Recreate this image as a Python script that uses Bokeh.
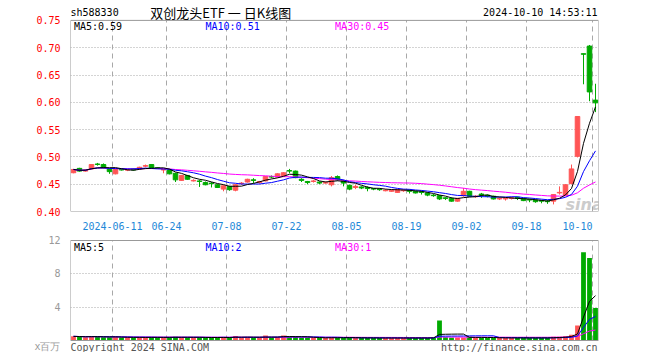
import pandas as pd
from bokeh.plotting import figure
from bokeh.models import (Range1d, FixedTicker, Label, ColumnDataSource, NumeralTickFormatter,
                          BoxAnnotation)
from bokeh.layouts import column
from bokeh.embed import file_html
from bokeh.resources import INLINE

# ---------------- data ----------------
dates = [
    "2024-05-30", "2024-05-31", "2024-06-03", "2024-06-04", "2024-06-05", "2024-06-06", "2024-06-07",
    "2024-06-11", "2024-06-12", "2024-06-13", "2024-06-14", "2024-06-17", "2024-06-18", "2024-06-19",
    "2024-06-20", "2024-06-21",
    "2024-06-24", "2024-06-25", "2024-06-26", "2024-06-27", "2024-06-28", "2024-07-01", "2024-07-02",
    "2024-07-03", "2024-07-04", "2024-07-05",
    "2024-07-08", "2024-07-09", "2024-07-10", "2024-07-11", "2024-07-12", "2024-07-15", "2024-07-16",
    "2024-07-17", "2024-07-18", "2024-07-19",
    "2024-07-22", "2024-07-23", "2024-07-24", "2024-07-25", "2024-07-26", "2024-07-29", "2024-07-30",
    "2024-07-31", "2024-08-01", "2024-08-02",
    "2024-08-05", "2024-08-06", "2024-08-07", "2024-08-08", "2024-08-09", "2024-08-12", "2024-08-13",
    "2024-08-14", "2024-08-15", "2024-08-16",
    "2024-08-19", "2024-08-20", "2024-08-21", "2024-08-22", "2024-08-23", "2024-08-26", "2024-08-27",
    "2024-08-28", "2024-08-29", "2024-08-30",
    "2024-09-02", "2024-09-03", "2024-09-04", "2024-09-05", "2024-09-06", "2024-09-09", "2024-09-10",
    "2024-09-11", "2024-09-12", "2024-09-13",
    "2024-09-18", "2024-09-19", "2024-09-20", "2024-09-23", "2024-09-24", "2024-09-25", "2024-09-26",
    "2024-09-27", "2024-09-30", "2024-10-08", "2024-10-09", "2024-10-10",
]

open_ = [0.471, 0.479, 0.474, 0.478, 0.487, 0.486, 0.478, 0.469, 0.477, 0.476,
         0.478, 0.478, 0.483, 0.486, 0.480, 0.476, 0.476, 0.470, 0.457, 0.466,
         0.456, 0.456, 0.453, 0.452, 0.449, 0.441, 0.446, 0.439, 0.451, 0.454,
         0.458, 0.453, 0.456, 0.464, 0.463, 0.466, 0.475, 0.474, 0.459, 0.455,
         0.455, 0.454, 0.452, 0.449, 0.464, 0.456, 0.448, 0.444, 0.445, 0.444,
         0.442, 0.441, 0.438, 0.437, 0.435, 0.438, 0.439, 0.437, 0.436, 0.434,
         0.430, 0.429, 0.425, 0.424, 0.419, 0.429, 0.437, 0.427, 0.432, 0.430,
         0.428, 0.423, 0.423, 0.424, 0.426, 0.424, 0.422, 0.421, 0.420, 0.419,
         0.419, 0.434, 0.430, 0.451, 0.501, 0.689, 0.703, 0.604]
high = [0.478, 0.480, 0.477, 0.486, 0.489, 0.488, 0.479, 0.477, 0.478, 0.477,
        0.479, 0.482, 0.486, 0.486, 0.481, 0.478, 0.477, 0.471, 0.467, 0.467,
        0.459, 0.458, 0.455, 0.454, 0.450, 0.448, 0.447, 0.450, 0.454, 0.460,
        0.461, 0.456, 0.465, 0.466, 0.470, 0.472, 0.478, 0.475, 0.461, 0.456,
        0.458, 0.455, 0.455, 0.465, 0.466, 0.458, 0.449, 0.449, 0.446, 0.446,
        0.443, 0.442, 0.441, 0.440, 0.441, 0.440, 0.440, 0.437, 0.437, 0.435,
        0.432, 0.430, 0.426, 0.426, 0.425, 0.443, 0.438, 0.430, 0.434, 0.431,
        0.429, 0.426, 0.425, 0.427, 0.427, 0.425, 0.423, 0.422, 0.421, 0.421,
        0.431, 0.446, 0.450, 0.486, 0.574, 0.689, 0.705, 0.634]
low = [0.470, 0.473, 0.473, 0.477, 0.484, 0.479, 0.469, 0.468, 0.475, 0.474,
       0.475, 0.477, 0.481, 0.478, 0.478, 0.470, 0.468, 0.454, 0.456, 0.458,
       0.455, 0.445, 0.448, 0.444, 0.443, 0.437, 0.438, 0.437, 0.449, 0.453,
       0.452, 0.451, 0.455, 0.461, 0.462, 0.465, 0.470, 0.461, 0.454, 0.450,
       0.453, 0.450, 0.451, 0.446, 0.456, 0.446, 0.439, 0.441, 0.441, 0.437,
       0.439, 0.438, 0.437, 0.436, 0.434, 0.436, 0.433, 0.433, 0.431, 0.428,
       0.427, 0.421, 0.421, 0.418, 0.418, 0.427, 0.427, 0.425, 0.425, 0.426,
       0.422, 0.421, 0.420, 0.422, 0.421, 0.419, 0.417, 0.416, 0.415, 0.414,
       0.413, 0.431, 0.429, 0.450, 0.499, 0.633, 0.602, 0.582]
close = [0.477, 0.474, 0.476, 0.486, 0.486, 0.480, 0.473, 0.477, 0.476, 0.476,
         0.476, 0.481, 0.484, 0.479, 0.479, 0.477, 0.469, 0.458, 0.466, 0.459,
         0.457, 0.455, 0.449, 0.451, 0.444, 0.447, 0.440, 0.449, 0.452, 0.459,
         0.457, 0.455, 0.464, 0.463, 0.469, 0.471, 0.474, 0.462, 0.457, 0.453,
         0.456, 0.452, 0.453, 0.462, 0.458, 0.452, 0.441, 0.446, 0.443, 0.442,
         0.441, 0.440, 0.439, 0.439, 0.440, 0.439, 0.437, 0.434, 0.435, 0.430,
         0.429, 0.423, 0.424, 0.419, 0.424, 0.437, 0.428, 0.428, 0.430, 0.428,
         0.423, 0.424, 0.424, 0.425, 0.424, 0.420, 0.421, 0.418, 0.419, 0.418,
         0.431, 0.435, 0.449, 0.478, 0.574, 0.688, 0.619, 0.599]
# volume, millions
volume = [0.50, 0.45, 0.40, 0.50, 0.45, 0.40, 0.40, 0.45, 0.35, 0.35,
          0.35, 0.40, 0.40, 0.40, 0.35, 0.35, 0.40, 0.45, 0.40, 0.35,
          0.35, 0.40, 0.35, 0.35, 0.35, 0.40, 0.35, 0.55, 0.35, 0.40,
          0.35, 0.35, 0.60, 0.35, 0.40, 0.60, 0.45, 0.50, 0.35, 0.35,
          0.30, 0.30, 0.30, 0.40, 0.35, 0.30, 0.35, 0.30, 0.30, 0.30,
          0.30, 0.30, 0.30, 0.30, 0.30, 0.30, 0.30, 0.30, 0.30, 0.30,
          0.35, 2.40, 0.40, 0.35, 0.35, 0.35, 0.45, 0.35, 0.35, 0.30,
          0.35, 0.30, 0.30, 0.30, 0.30, 0.35, 0.30, 0.30, 0.30, 0.30,
          0.45, 0.45, 0.50, 0.70, 1.80, 10.6, 9.90, 3.90]

tick_dates = ["2024-06-11", "2024-06-24", "2024-07-08", "2024-07-22", "2024-08-05",
              "2024-08-19", "2024-09-02", "2024-09-18", "2024-10-10"]
tick_labels = ["2024-06-11", "06-24", "07-08", "07-22", "08-05", "08-19", "09-02", "09-18", "10-10"]
price_ticks = [0.40, 0.45, 0.50, 0.55, 0.60, 0.65, 0.70, 0.75]
vol_ticks = [4, 8, 12]
vol_unit = "x百万"

# ---------------- styling ----------------
RED = "#ff5555"
GREEN = "#00aa00"
MONO = "DejaVu Sans Mono"
CJK = "Noto Sans CJK SC"
GRIDC = "#a8a8a8"
BOXC = "#999999"

n = len(dates)
xs = [i + 0.5 for i in range(n)]
colors = [RED if c >= o else GREEN for o, c in zip(open_, close)]
src = ColumnDataSource(dict(
    x=xs, open=open_, close=close, high=high, low=low, vol=volume, color=colors,
    top=[max(o, c) for o, c in zip(open_, close)],
    bottom=[min(o, c) for o, c in zip(open_, close)],
))

cs = pd.Series(close)
ma5 = cs.rolling(5, min_periods=1).mean()
ma10 = cs.rolling(10, min_periods=1).mean()
ma30 = cs.rolling(30, min_periods=1).mean()
vs = pd.Series(volume)
vma5 = vs.rolling(5, min_periods=1).mean()
vma10 = vs.rolling(10, min_periods=1).mean()
vma30 = vs.rolling(30, min_periods=1).mean()

grid_pos = [dates.index(d) for d in tick_dates]
label_pos = list(grid_pos)
label_pos[-1] = grid_pos[-1] - 2.5   # last label pulled inside the frame

W = 644
LEFT = 70
PX = 6  # pixels per trading day

# price panel: box 0.40..0.75 is 192 px; frame extends up to the canvas top (header area)
P_LO, P_HI = price_ticks[0], price_ticks[-1]
P_PPU = 192 / (P_HI - P_LO)
P_TOP = P_HI + 20 / P_PPU
# volume panel: box 0..12 is 100 px; frame extends 8 px above and 12 px below
V_HI = vol_ticks[-1]
V_PPU = 100 / V_HI
V_TOP = V_HI + 8 / V_PPU
V_BOT = -12 / V_PPU


def base(height, ymin, ymax, bottom, lo, hi):
    p = figure(width=W, height=height, output_backend="svg", toolbar_location=None,
               x_range=Range1d(0, n), y_range=Range1d(ymin, ymax),
               min_border_left=LEFT, min_border_right=W - LEFT - PX * n,
               min_border_top=0, min_border_bottom=bottom,
               background_fill_color="white", border_fill_color="white",
               outline_line_color=None)
    p.xgrid.visible = False
    p.ygrid.grid_line_color = GRIDC
    p.ygrid.grid_line_dash = "1 2"
    p.segment(x0=grid_pos, y0=lo, x1=grid_pos, y1=hi, line_color=GRIDC,
              line_dash="5 4", line_width=1)
    p.add_layout(BoxAnnotation(left=0, right=n, bottom=lo, top=hi, fill_color=None,
                               line_color=BOXC, line_width=1, line_alpha=1))
    for ax in p.yaxis:
        ax.axis_line_color = None
        ax.major_tick_line_color = None
        ax.minor_tick_line_color = None
        ax.major_label_standoff = 4
        ax.major_label_text_font = MONO
        ax.major_label_text_font_size = "10px"
    return p


def lab(p, x, y, text, color="#000000", align="left", font=MONO, size="10px"):
    p.add_layout(Label(x=x, y=y, text=text, text_color=color, text_align=align,
                       text_baseline="middle", text_font=font, text_font_size=size))


# ---------------- price panel ----------------
p1 = base(232, P_LO, P_TOP, 20, P_LO, P_HI)
p1.ygrid.ticker = FixedTicker(ticks=price_ticks[1:-1])
p1.yaxis.ticker = FixedTicker(ticks=price_ticks)
p1.yaxis.formatter = NumeralTickFormatter(format="0.00")
p1.yaxis.major_label_text_color = "#ff0000"
p1.xaxis.ticker = FixedTicker(ticks=label_pos)
p1.xaxis.major_label_overrides = {pos: lb for pos, lb in zip(label_pos, tick_labels)}
p1.xaxis.axis_line_color = None
p1.xaxis.major_tick_line_color = None
p1.xaxis.minor_tick_line_color = None
p1.xaxis.major_label_standoff = 4
p1.xaxis.major_label_text_font = MONO
p1.xaxis.major_label_text_font_size = "10px"
p1.xaxis.major_label_text_color = "#1e88d8"

p1.add_layout(Label(x=85.6, y=P_LO + 7 / P_PPU, text="sina", text_font="DejaVu Sans",
                    text_font_size="16px", text_font_style="bold italic", text_color="#cccccc",
                    text_align="center", text_baseline="alphabetic", level="underlay"))

p1.segment(x0="x", y0="low", x1="x", y1="high", color="color", line_width=1, source=src)
p1.vbar(x="x", width=0.76, top="top", bottom="bottom", fill_color="color",
        line_color="color", line_width=1, source=src)
p1.line(xs, ma30, color="#ff00ff", line_width=1)
p1.line(xs, ma10, color="#0000ff", line_width=1)
p1.line(xs, ma5, color="#000000", line_width=1)

hy = P_LO + (212 - 12.5) / P_PPU
lab(p1, 0, hy, "sh588330")
lab(p1, 13.3, hy, "双创龙头ETF 一 日K线图", font=CJK, size="13px")
lab(p1, 87.83, hy, "2024-10-10 14:53:11", align="right")
my = P_LO + (212 - 26) / P_PPU
lab(p1, 0.57, my, f"MA5:{ma5.iloc[-1]:.2f}")
lab(p1, 22.5, my, f"MA10:{ma10.iloc[-1]:.2f}", color="#0000ff")
lab(p1, 44.1, my, f"MA30:{ma30.iloc[-1]:.2f}", color="#ff00ff")

# ---------------- volume panel ----------------
p2 = base(120, V_BOT, V_TOP, 0, 0, V_HI)
p2.xaxis.visible = False
unit_y = -6 / V_PPU
p2.ygrid.ticker = FixedTicker(ticks=vol_ticks[:-1])
p2.yaxis.ticker = FixedTicker(ticks=[unit_y] + vol_ticks)
p2.yaxis.major_label_overrides = {unit_y: vol_unit}
p2.yaxis.major_label_text_color = "#999999"

p2.vbar(x="x", width=0.8, top="vol", bottom=0, fill_color="color", line_color=None, source=src)
p2.line(xs, vma30, color="#ff00ff", line_width=1)
p2.line(xs, vma10, color="#0000ff", line_width=1)
p2.line(xs, vma5, color="#000000", line_width=1)

vy = V_HI - 7 / V_PPU
lab(p2, 0.57, vy, f"MA5:{int(vma5.iloc[-1])}")
lab(p2, 22.5, vy, f"MA10:{int(vma10.iloc[-1])}", color="#0000ff")
lab(p2, 44.1, vy, f"MA30:{int(vma30.iloc[-1])}", color="#ff00ff")
by = -7 / V_PPU
lab(p2, 0, by, "Copyright 2024 SINA.COM", color="#555555")
lab(p2, 87.83, by, "http://finance.sina.com.cn", color="#555555", align="right")

layout = column(p1, p2, spacing=0)
open("out.html", "w").write(file_html(layout, INLINE))
